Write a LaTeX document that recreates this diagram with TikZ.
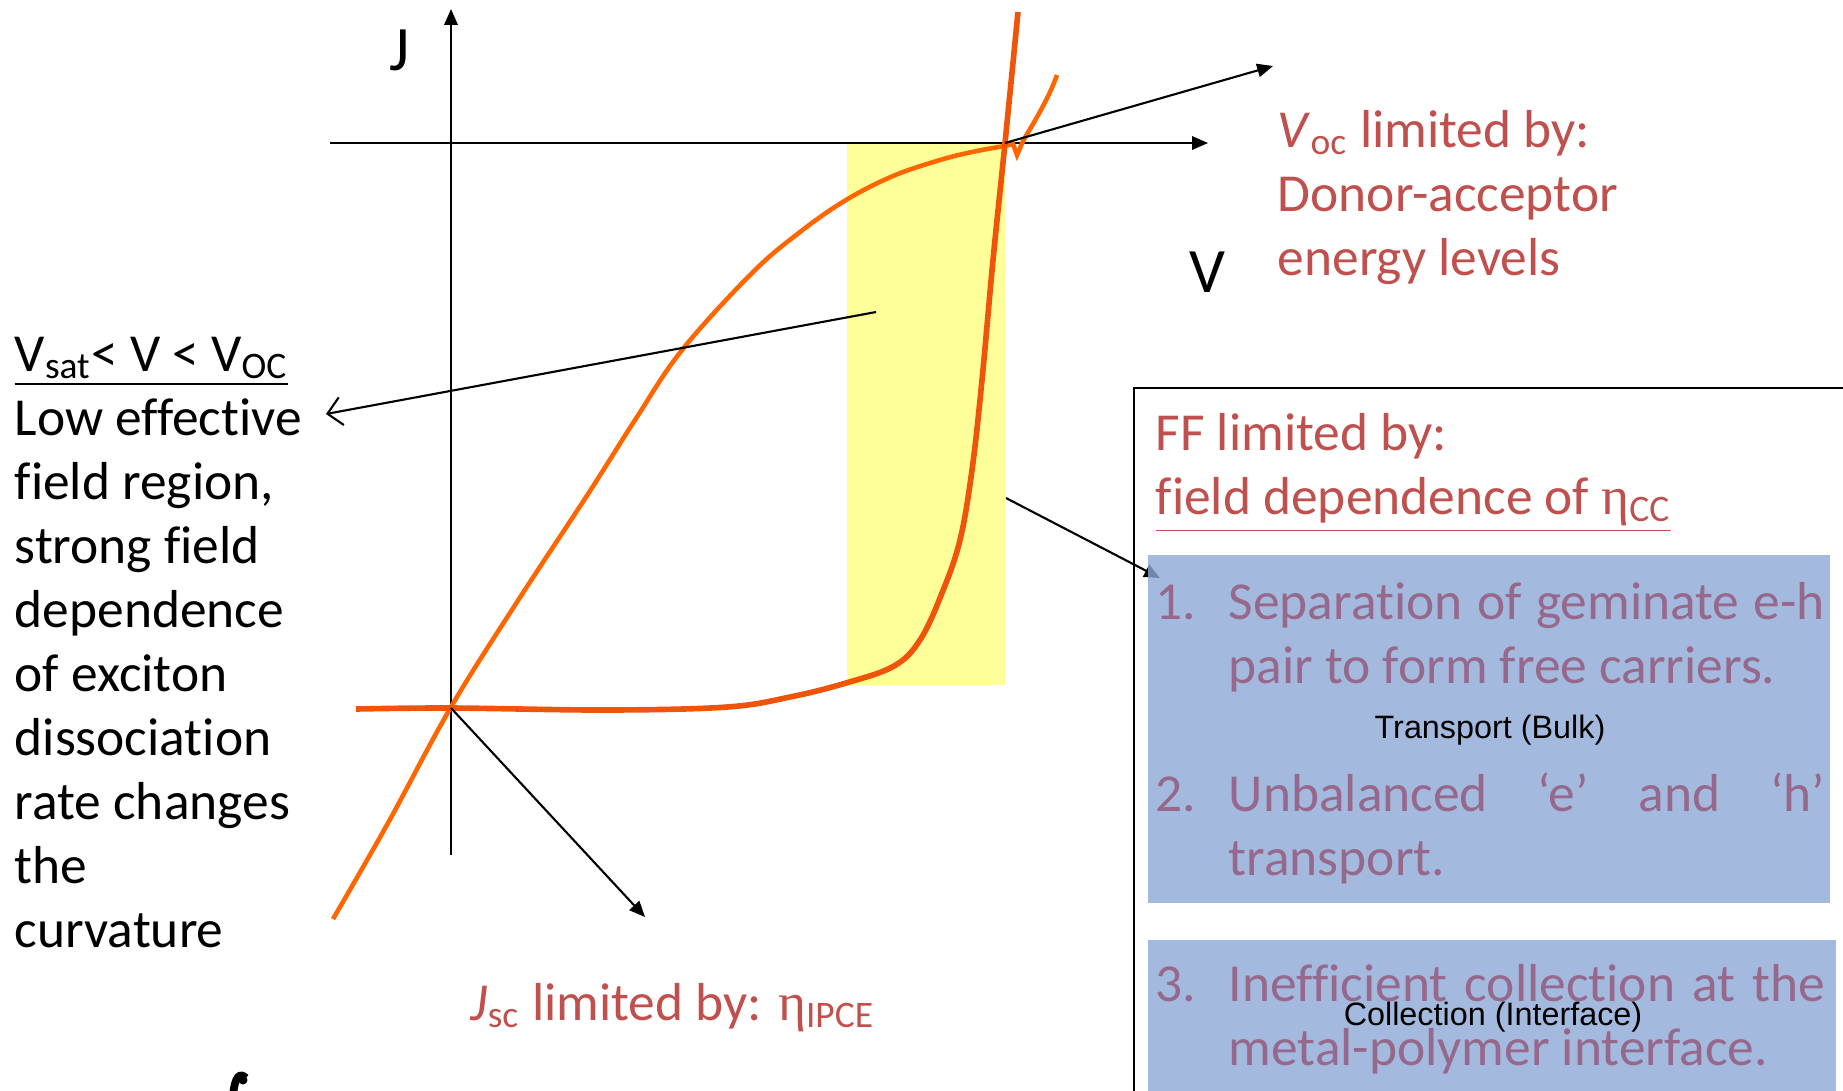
\documentclass[tikz,border=0pt]{standalone}
\usepackage{fontspec}
\setmainfont{Carlito}[Ligatures=NoCommon]
\newfontfamily\arialfont{Liberation Sans}
\newfontfamily\symbfont{Liberation Serif}
\usetikzlibrary{arrows.meta}

\definecolor{pptred}{RGB}{192,80,77}
\definecolor{curvelight}{RGB}{255,102,0}
\definecolor{curvedark}{RGB}{240,84,10}
\definecolor{fillyellow}{RGB}{255,255,153}
\definecolor{boxblue}{RGB}{140,169,214}
\definecolor{itemtext}{RGB}{150,104,140}

\newcommand{\etasym}{{\symbfont η}}

\tikzset{
  bigtxt/.style={inner sep=0pt, font=\fontsize{15.2}{18.2}\selectfont,
    execute at begin node={\spaceskip=0pt\xspaceskip=0pt}},
  axislbl/.style={inner sep=0pt, font=\fontsize{18}{20}\selectfont},
  smalltxt/.style={inner sep=0pt, font=\arialfont\fontsize{9.2}{10}\selectfont},
  pointer/.style={-{Triangle[length=4.5pt,width=3.8pt]}, line width=0.6pt},
  itembox/.style={fill=boxblue, fill opacity=0.8, draw=none},
}

\begin{document}
\begin{tikzpicture}[x=0.01cm, y=-0.01cm]
\useasboundingbox (0,0) rectangle (1843,1090);

% operating region
\fill[fillyellow] (847,143) rectangle (1005,685);

% axes
\coordinate (O) at (451,708);
\coordinate (ymin) at (451,855);
\coordinate (ymax) at (451,9);
\coordinate (xmin) at (330,143);
\coordinate (xmax) at (1208,143);
\draw[pointer, line width=0.5pt] (ymin) -- (ymax);
\draw[pointer, line width=0.5pt] (xmin) -- (xmax);
\node[axislbl] (Jlbl) at (400,50) {J};
\node[axislbl] (Vlbl) at (1207,272) {V};

% J-V curves
\draw[curvelight, line width=1.3pt] plot[smooth, tension=0.6] coordinates {(333,919) (388,823) (451,707) (517,602) (588,494) (635,420) (682,350) (752,273) (800,232) (846,200) (893,176) (940,160) (972,152) (1004,146) (1013,144)}
  -- (1017,155) -- (1023,141) .. controls (1034,122) and (1048,100) .. (1057,75);
\draw[curvedark, line width=1.6pt] plot[smooth, tension=0.6] coordinates {(356,709) (451,708) (607,710) (727,707) (790,697) (846,683) (894,666) (920,640) (942,593) (960,540) (972,470) (982,380) (993,260) (1005,143) (1018,12)};

% pointers
\coordinate (voc) at (1005,143);
\coordinate (vocend) at (1273,66);
\coordinate (jscend) at (645,917);
\coordinate (regstart) at (876,312);
\coordinate (regend) at (326,414);
\coordinate (ffstart) at (1006,498);
\coordinate (ffend) at (1160,578);
\draw[pointer] (voc) -- (vocend);
\draw[pointer] (O) -- (jscend);
\draw[-{Straight Barb[length=4pt,width=8pt]}, line width=0.6pt] (regstart) -- (regend);
\draw[pointer] (ffstart) -- (ffend);

% labels
\node[bigtxt, text width=4cm, align=flush left, anchor=base west] (regtxt) at (14,371)
  {\underline{V\textsubscript{sat}< V < V\textsubscript{OC}}\\Low effective\\field region,\\strong field\\dependence\\of exciton\\dissociation\\rate changes\\the\\curvature};
\node[bigtxt, pptred, text width=4cm, align=flush left, anchor=base west] (voctxt) at (1277,147)
  {\textit{V}\textsubscript{oc} limited by:\\Donor-acceptor\\energy levels};
\node[bigtxt, pptred, anchor=base west] (jsctxt) at (470,1020)
  {\textit{J}\textsubscript{sc} limited by: \etasym\textsubscript{IPCE}};

% glyph cut off at the lower edge
\fill (243,1080) circle (4.5);
\draw[line width=2.2pt] (246,1078) .. controls (240,1072) and (235,1076) .. (233,1095);

% fill factor box
\draw[line width=0.6pt] (1860,388) -- (1134,388) -- (1134,1100);
\node[bigtxt, pptred, text width=6.5cm, align=flush left, anchor=base west] (fftxt) at (1155,450)
  {FF limited by:\\\underline{field dependence of \etasym\textsubscript{CC}}};
\fill[itembox] (1148,555) rectangle (1830,903);
\fill[itembox] (1148,940) rectangle (1836,1100);

\node[bigtxt, itemtext, anchor=base west] (n1) at (1155,619) {1.};
\node[bigtxt, itemtext, text width=5.96cm, align=justify, anchor=base west] (item1) at (1228,619)
  {Separation of geminate \mbox{e-h}\linebreak pair to form free carriers.};
\node[smalltxt] (bulk) at (1490,730) {Transport (Bulk)};
\node[bigtxt, itemtext, anchor=base west] (n2) at (1155,811) {2.};
\node[bigtxt, itemtext, text width=5.96cm, align=justify, anchor=base west] (item2) at (1228,811)
  {Unbalanced ‘e’ and ‘h’\linebreak transport.};
\node[bigtxt, itemtext, anchor=base west] (n3) at (1155,1001) {3.};
\node[bigtxt, itemtext, text width=5.96cm, align=justify, anchor=base west] (item3) at (1228,1001)
  {Inefficient collection at the\linebreak metal-polymer interface.};
\node[smalltxt] (coll) at (1493,1017) {Collection (Interface)};
\end{tikzpicture}
\end{document}
